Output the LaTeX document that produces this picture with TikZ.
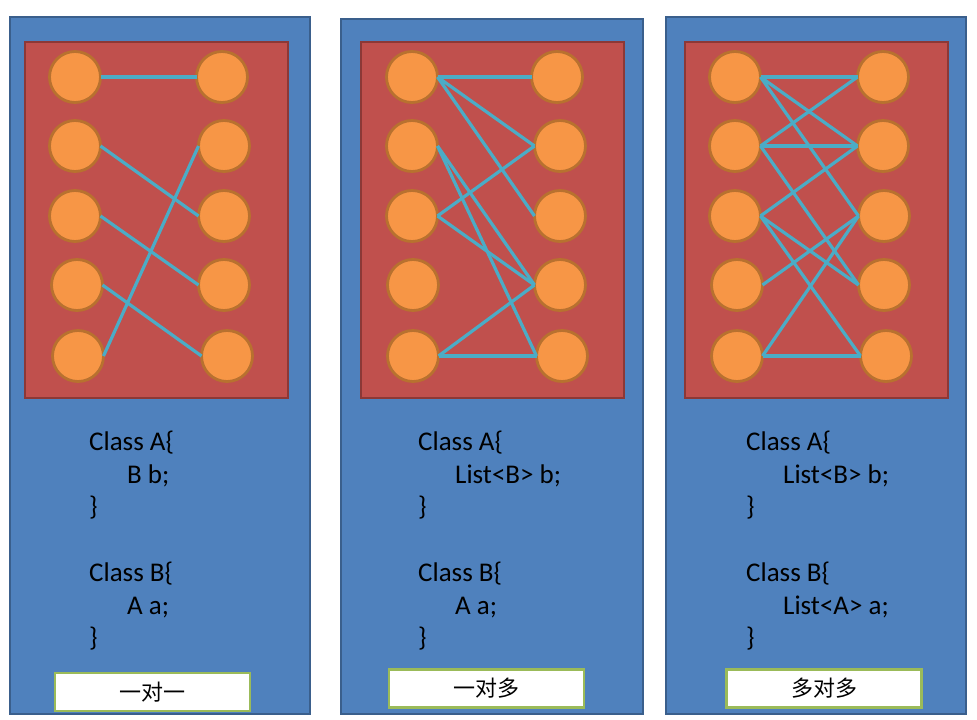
\documentclass[tikz,border=0pt]{standalone}
\usepackage{fontspec}
\setmainfont{Carlito}
\newfontfamily\cjkfont{Noto Sans CJK SC}
\definecolor{panelblue}{HTML}{4F81BD}
\definecolor{panelborder}{HTML}{3A5F8C}
\definecolor{redfill}{HTML}{C0504D}
\definecolor{redborder}{HTML}{8C3836}
\definecolor{circfill}{HTML}{F79646}
\definecolor{circborder}{HTML}{B8712F}
\definecolor{linkcol}{HTML}{4BACC6}
\definecolor{boxgreen}{HTML}{9BBB59}
\tikzset{
  panel/.style={draw=panelborder, fill=panelblue, line width=2.5pt},
  inner/.style={draw=redborder, fill=redfill, line width=2.5pt},
  circ/.style={circle, draw=circborder, fill=circfill, line width=2.8pt, minimum size=51pt, inner sep=0pt, outer sep=0pt},
  link/.style={draw=linkcol, line width=3.2pt},
  code/.style={anchor=base west, inner sep=0pt, font=\fontsize{27}{30}\selectfont, text=black},
  lbl/.style={draw=boxgreen, fill=white, line width=2.5pt, minimum width=195pt, minimum height=38pt, inner sep=0pt, font=\cjkfont\fontsize{22}{24}\selectfont}
}
\begin{document}
\begin{tikzpicture}[x=1pt,y=-1pt]
\useasboundingbox (0,0) rectangle (977,720);
% panels
\draw[panel] (10,17) rectangle (310,714);
\draw[panel] (341,19) rectangle (643,714);
\draw[panel] (666,17) rectangle (966,714);
\draw[inner] (25,42) rectangle (288,398);
\draw[inner] (361,42) rectangle (624,398);
\draw[inner] (685,42) rectangle (948,398);
% panel 1 circles
\node[circ] (pa1) at (75,77) {};
\node[circ] (pa2) at (75,146) {};
\node[circ] (pa3) at (75,216) {};
\node[circ] (pa4) at (77,285) {};
\node[circ] (pa5) at (78,356) {};
\node[circ] (pb1) at (222,77) {};
\node[circ] (pb2) at (224,146) {};
\node[circ] (pb3) at (224,216) {};
\node[circ] (pb4) at (224,285) {};
\node[circ] (pb5) at (227,356) {};
% panel 2 circles
\node[circ] (qa1) at (412,77) {};
\node[circ] (qa2) at (412,146) {};
\node[circ] (qa3) at (412,216) {};
\node[circ] (qa4) at (413,285) {};
\node[circ] (qa5) at (413,356) {};
\node[circ] (qb1) at (557,77) {};
\node[circ] (qb2) at (560,146) {};
\node[circ] (qb3) at (560,216) {};
\node[circ] (qb4) at (560,285) {};
\node[circ] (qb5) at (562,356) {};
% panel 3 circles
\node[circ] (ra1) at (735,77) {};
\node[circ] (ra2) at (735,146) {};
\node[circ] (ra3) at (735,216) {};
\node[circ] (ra4) at (737,285) {};
\node[circ] (ra5) at (737,356) {};
\node[circ] (rb1) at (883,77) {};
\node[circ] (rb2) at (883,146) {};
\node[circ] (rb3) at (884,216) {};
\node[circ] (rb4) at (884,285) {};
\node[circ] (rb5) at (886,356) {};
% panel 1 links
\draw[link] (pa1.east) -- (pb1.west);
\draw[link] (pa2.east) -- (pb3.west);
\draw[link] (pa3.east) -- (pb4.west);
\draw[link] (pa4.east) -- (pb5.west);
\draw[link] (pa5.east) -- (pb2.west);
% panel 2 links
\draw[link] (qa1.east) -- (qb1.west);
\draw[link] (qa1.east) -- (qb2.west);
\draw[link] (qa1.east) -- (qb3.west);
\draw[link] (qa2.east) -- (qb4.west);
\draw[link] (qa2.east) -- (qb5.west);
\draw[link] (qa3.east) -- (qb2.west);
\draw[link] (qa3.east) -- (qb4.west);
\draw[link] (qa5.east) -- (qb4.west);
\draw[link] (qa5.east) -- (qb5.west);
% panel 3 links
\draw[link] (ra1.east) -- (rb1.west);
\draw[link] (ra1.east) -- (rb2.west);
\draw[link] (ra1.east) -- (rb3.west);
\draw[link] (ra2.east) -- (rb1.west);
\draw[link] (ra2.east) -- (rb2.west);
\draw[link] (ra2.east) -- (rb4.west);
\draw[link] (ra3.east) -- (rb2.west);
\draw[link] (ra3.east) -- (rb4.west);
\draw[link] (ra3.east) -- (rb5.west);
\draw[link] (ra4.east) -- (rb3.west);
\draw[link] (ra5.east) -- (rb3.west);
\draw[link] (ra5.east) -- (rb5.west);
% code text panel 1
\node[code] (c11) at (89,450) {Class A\{};
\node[code] (c12) at (127,483) {B b;};
\node[code] (c13) at (89,515) {\}};
\node[code] (c14) at (89,581) {Class B\{};
\node[code] (c15) at (127,614) {A a;};
\node[code] (c16) at (89,646) {\}};
% code text panel 2
\node[code] (c21) at (418,450) {Class A\{};
\node[code] (c22) at (455,483) {List<B> b;};
\node[code] (c23) at (418,515) {\}};
\node[code] (c24) at (418,581) {Class B\{};
\node[code] (c25) at (455,614) {A a;};
\node[code] (c26) at (418,646) {\}};
% code text panel 3
\node[code] (c31) at (746,450) {Class A\{};
\node[code] (c32) at (783,483) {List<B> b;};
\node[code] (c33) at (746,515) {\}};
\node[code] (c34) at (746,581) {Class B\{};
\node[code] (c35) at (783,614) {List<A> a;};
\node[code] (c36) at (746,646) {\}};
% labels
\node[lbl] (l1) at (152.5,692) {一对一};
\node[lbl] (l2) at (486.5,688.5) {一对多};
\node[lbl] (l3) at (824,688.5) {多对多};
\end{tikzpicture}
\end{document}
